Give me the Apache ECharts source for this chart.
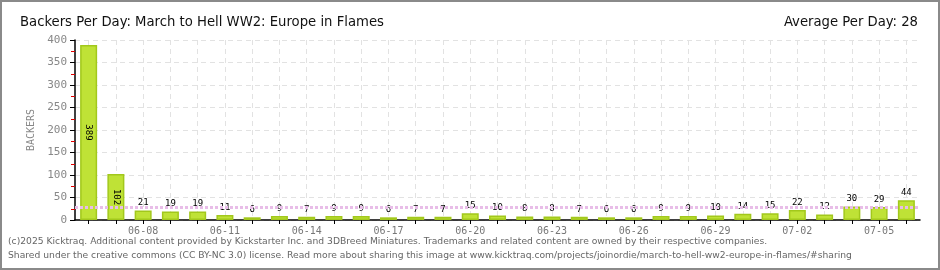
<!DOCTYPE html>
<html>
<head>
<meta charset="utf-8">
<script src="https://cdn.jsdelivr.net/npm/echarts@6/dist/echarts.min.js"></script>
<style>
html,body{margin:0;padding:0;background:#fff;}
#chart{width:940px;height:270px;}
</style>
</head>
<body>
<div id="chart"></div>
<script>
const categories = ['06-06','06-07','06-08','06-09','06-10','06-11','06-12','06-13','06-14','06-15','06-16','06-17','06-18','06-19','06-20','06-21','06-22','06-23','06-24','06-25','06-26','06-27','06-28','06-29','06-30','07-01','07-02','07-03','07-04','07-05','07-06'];
const backers = [389,102,21,19,19,11,6,9,7,9,9,6,7,7,15,10,8,8,7,6,6,9,9,10,14,15,22,12,30,29,44];
const averagePerDay = 28;
const yTicks = {min:0, max:400, interval:50};
const titleText = 'Backers Per Day: March to Hell WW2: Europe in Flames';
const avgText = 'Average Per Day: ' + averagePerDay;
const footer1 = '(c)2025 Kicktraq. Additional content provided by Kickstarter Inc. and 3DBreed Miniatures. Trademarks and related content are owned by their respective companies.';
const footer2 = 'Shared under the creative commons (CC BY-NC 3.0) license. Read more about sharing this image at www.kicktraq.com/projects/joinordie/march-to-hell-ww2-europe-in-flames/#sharing';

const chart = echarts.init(document.getElementById('chart'), null, {renderer:'canvas'});
const axisFont = 'DejaVu Sans Mono';
const titleFont = '"Liberation Sans Narrow", "DejaVu Sans Condensed", Roboto, sans-serif';
chart.setOption({
  animation:false,
  backgroundColor:'#fff',
  title:[
    {text:titleText, left:15, top:10, textStyle:{fontFamily:titleFont, fontSize:14.7, fontWeight:'normal', color:'#111'}},
    {text:avgText, right:17, top:10, textStyle:{fontFamily:titleFont, fontSize:14.7, fontWeight:'normal', color:'#111'}}
  ],
  grid:{left:75, right:20, top:40, bottom:50, containLabel:false},
  xAxis:{
    type:'category', data:categories, boundaryGap:true,
    axisLine:{lineStyle:{color:'#000', width:1.5}},
    axisTick:{show:true, alignWithLabel:true, interval:0, length:4, lineStyle:{color:'#000'}},
    axisLabel:{interval:(i)=> (i-2)%3===0 && i>=2, color:'#777', fontFamily:axisFont, fontSize:10, margin:6},
    splitLine:{show:true, alignWithLabel:true, interval:0, lineStyle:{color:'#e2e2e2', type:[5,4]}}
  },
  yAxis:{
    type:'value', min:yTicks.min, max:yTicks.max, interval:yTicks.interval,
    name:'BACKERS', nameLocation:'middle', nameGap:30, nameRotate:90,
    nameTextStyle:{color:'#888', fontFamily:axisFont, fontSize:10},
    axisLine:{show:true, lineStyle:{color:'#000', width:1.5}},
    axisTick:{show:true, length:5, lineStyle:{color:'#000'}},
    minorTick:{show:true, splitNumber:2, length:4, lineStyle:{color:'#e00000', width:1}},
    axisLabel:{color:'#888', fontFamily:axisFont, fontSize:11, margin:8},
    splitLine:{show:true, lineStyle:{color:'#e2e2e2', type:[5,4]}}
  },
  series:[
    {
      type:'line', data:[], z:1, silent:true,
      markLine:{silent:true, symbol:'none', label:{show:false},
        lineStyle:{color:'#e8bde8', width:3, type:[3,2]},
        data:[{yAxis:averagePerDay}]}
    },
    {
      type:'bar', data:backers.map(v=>({value:v,
        label: v>=100 ? {position:'inside', rotate:-90} : {position:'top'}})),
      barWidth:17, z:3,
      itemStyle:{color:'#bfe236', borderColor:'#a2c81c', borderWidth:1.5},
      label:{show:true, color:'#000', fontFamily:axisFont, fontSize:9, distance:3}
    }
  ],
  graphic:[
    {type:'rect', shape:{x:1, y:1, width:938, height:268}, style:{fill:'none', stroke:'#8a8a8a', lineWidth:2}, z:100},
    {type:'text', left:8, top:237, style:{text:footer1, fill:'#666', font:'9.2px "DejaVu Sans"'}},
    {type:'text', left:8, top:251, style:{text:footer2, fill:'#666', font:'9.2px "DejaVu Sans"'}}
  ]
});
</script>
</body>
</html>
